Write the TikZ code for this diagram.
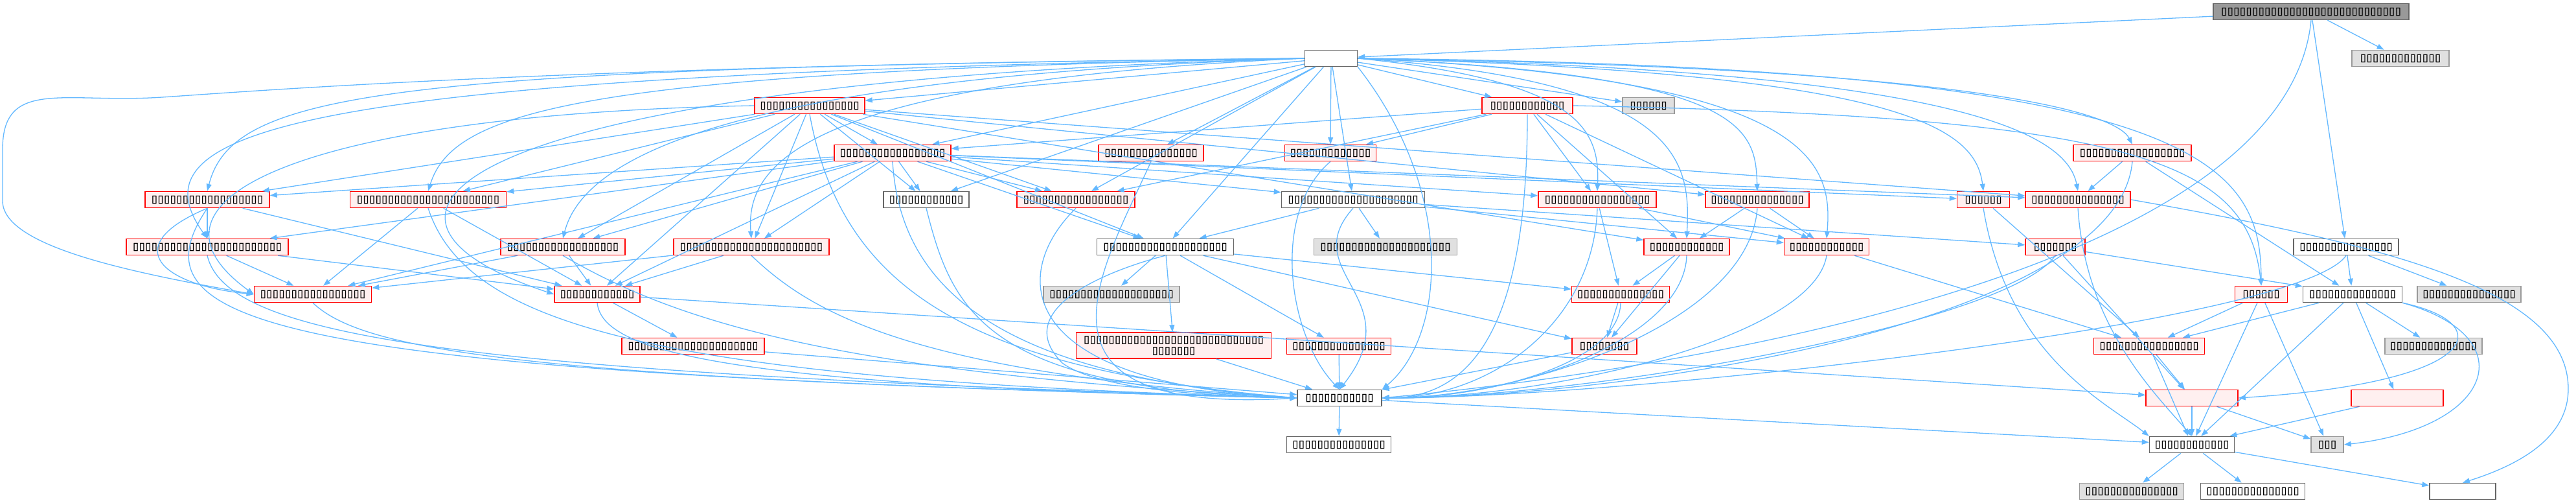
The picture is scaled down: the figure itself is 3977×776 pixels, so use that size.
\documentclass[tikz,border=0pt]{standalone}
\usepackage{fontspec}
\newfontfamily\tofufont[FakeBold=1.5]{DejaVu Sans}
\usetikzlibrary{arrows.meta}
\definecolor{edgeblue}{HTML}{63B8FF}
\definecolor{redfill}{HTML}{FFF0F0}
\definecolor{redline}{HTML}{FF0000}
\definecolor{greyline}{HTML}{666666}
\definecolor{lgfill}{HTML}{E0E0E0}
\definecolor{lgline}{HTML}{999999}
\definecolor{dgfill}{HTML}{999999}
\newcommand\tfc{\makebox[9.6pt]{▯}}
\newcommand\tfs[1]{\ifnum#1>0 \tfc\expandafter\tfs\expandafter{\the\numexpr#1-1\relax}\fi}
\tikzset{
  basenode/.style={rectangle, inner sep=0pt, minimum height=25pt, line width=1.5pt,
     font=\tofufont\fontsize{16}{17}\selectfont, align=center},
  rednode/.style={basenode, draw=redline, fill=redfill},
  whitenode/.style={basenode, draw=greyline, fill=white},
  graynode/.style={basenode, draw=lgline, fill=lgfill},
  darknode/.style={basenode, draw=greyline, fill=dgfill},
  edg/.style={draw=edgeblue, line width=1.3pt, -{Triangle[length=11pt,width=8pt]}},
}
\begin{document}
\begin{tikzpicture}[x=1pt,y=-1pt]
\useasboundingbox (0,0) rectangle (3977,776);
% row 0-1
\node[darknode, minimum width=302] (TOP) at (3568,18) {\tfs{29}};
\node[graynode, minimum width=150] (TR) at (3706,90) {\tfs{13}};
\node[whitenode, minimum width=81] (K) at (2055,90) {};
% row 2
\node[rednode, minimum width=170] (A) at (1250,163) {\tfs{16}};
\node[rednode, minimum width=140] (L) at (2358,163) {\tfs{12}};
\node[graynode, minimum width=80] (M) at (2545,163) {\tfs{6}};
% row 3
\node[rednode, minimum width=180] (B) at (1378,236) {\tfs{17}};
\node[rednode, minimum width=162] (N) at (1777,236) {\tfs{15}};
\node[rednode, minimum width=141] (O) at (2054,236) {\tfs{13}};
\node[rednode, minimum width=182] (AA) at (3292,236) {\tfs{17}};
% row 4
\node[rednode, minimum width=192] (C) at (320,308) {\tfs{18}};
\node[rednode, minimum width=241] (D) at (661,308) {\tfs{23}};
\node[whitenode, minimum width=132] (P) at (1430,308) {\tfs{12}};
\node[rednode, minimum width=182] (Q) at (1661,308) {\tfs{17}};
\node[whitenode, minimum width=221] (R) at (2089,308) {\tfs{21}};
\node[rednode, minimum width=182] (S) at (2466,308) {\tfs{17}};
\node[rednode, minimum width=160] (T) at (2713,308) {\tfs{15}};
\node[rednode, minimum width=81] (BB) at (3062,308) {\tfs{6}};
\node[rednode, minimum width=162] (CC) at (3208,308) {\tfs{15}};
% row 5
\node[rednode, minimum width=250] (E) at (320,381) {\tfs{24}};
\node[rednode, minimum width=192] (F) at (869,381) {\tfs{18}};
\node[rednode, minimum width=240] (G) at (1160,381) {\tfs{23}};
\node[whitenode, minimum width=211] (U) at (1799,381) {\tfs{20}};
\node[graynode, minimum width=221] (V) at (2139,381) {\tfs{21}};
\node[rednode, minimum width=132] (W) at (2604,381) {\tfs{12}};
\node[rednode, minimum width=131] (DD) at (2820,381) {\tfs{12}};
\node[rednode, minimum width=92] (EE) at (3173,381) {\tfs{7}};
\node[whitenode, minimum width=162] (FF) at (3622,381) {\tfs{15}};
% row 6
\node[rednode, minimum width=181] (H) at (483,454) {\tfs{17}};
\node[rednode, minimum width=132] (I) at (922,454) {\tfs{12}};
\node[graynode, minimum width=210] (SS) at (1716,454) {\tfs{20}};
\node[rednode, minimum width=151] (Y) at (2502,454) {\tfs{14}};
\node[rednode, minimum width=81] (GG) at (3491,454) {\tfs{6}};
\node[whitenode, minimum width=153] (HH) at (3632,454) {\tfs{14}};
\node[graynode, minimum width=160] (II) at (3812,454) {\tfs{15}};
% row 7
\node[rednode, minimum width=220] (J) at (1070,534) {\tfs{21}};
\node[rednode, minimum width=301, minimum height=40pt] (TT) at (1812,533) {\tfs{29}\\\tfs{7}};
\node[rednode, minimum width=161] (UU) at (2067,534) {\tfs{15}};
\node[rednode, minimum width=100] (VV) at (2477,534) {\tfs{8}};
\node[rednode, minimum width=171] (JJ) at (3318,534) {\tfs{16}};
\node[graynode, minimum width=150] (KK) at (3757,534) {\tfs{14}};
% row 8
\node[whitenode, minimum width=130] (WW) at (2068,614) {\tfs{11}};
\node[rednode, minimum width=142] (LL) at (3384,614) {};
\node[rednode, minimum width=142] (MM) at (3701,614) {};
% row 9
\node[whitenode, minimum width=161] (XX) at (2067,686) {\tfs{15}};
\node[whitenode, minimum width=131] (NN) at (3384,686) {\tfs{12}};
\node[graynode, minimum width=50] (OO) at (3593,686) {\tfs{3}};
% row 10
\node[graynode, minimum width=161] (PP) at (3291,758) {\tfs{15}};
\node[whitenode, minimum width=161] (QQ) at (3478,758) {\tfs{15}};
\node[whitenode, minimum width=102] (RR) at (3802,758) {};

% ---------- edges ----------
% TOP
\draw[edg] (TOP) -- (K);
\draw[edg] (TOP) -- (TR);
\draw[edg] (TOP) -- (FF);
\draw[edg] (TOP.south) .. controls (3530,420) and (2600,570) .. (WW.east);
% K
\draw[edg] (K) -- (A);
\draw[edg] (K) -- (B);
\draw[edg] (K.west) .. controls (600,105) and (360,140) .. (C.north);
\draw[edg] (K.west) .. controls (900,110) and (700,170) .. (D.north);
\draw[edg] (K.west) .. controls (450,115) and (200,200) .. (E.north);
\draw[edg] (K.west) .. controls (1100,120) and (900,250) .. (F.north);
\draw[edg] (K.west) .. controls (1250,125) and (1150,250) .. (G.north);
\draw[edg] (K.west) .. controls (700,125) and (480,330) .. (I.west);
\draw[edg] (K.west) .. controls (900,100) and (400,140) .. (250,150) .. controls (100,160) and (4,120) .. (4,230) -- (4,310) .. controls (4,380) and (200,420) .. (H.west);
\draw[edg] (K) -- (L);
\draw[edg] (K) -- (M);
\draw[edg] (K) -- (N);
\draw[edg] (K) -- (O);
\draw[edg] (K) -- (P);
\draw[edg] (K) -- (Q);
\draw[edg] (K) -- (R);
\draw[edg] (K) -- (U);
\draw[edg] (K.east) .. controls (2440,125) and (2470,200) .. (S.north);
\draw[edg] (K.east) .. controls (2700,115) and (2710,200) .. (T.north);
\draw[edg] (K.east) .. controls (2600,125) and (2610,250) .. (W.north);
\draw[edg] (K.east) .. controls (3100,105) and (3270,180) .. (AA.north);
\draw[edg] (K.east) .. controls (2950,112) and (3050,200) .. (BB.north);
\draw[edg] (K.east) .. controls (3000,108) and (3190,200) .. (CC.north);
\draw[edg] (K.east) .. controls (2800,120) and (2830,250) .. (DD.north);
\draw[edg] (K.east) .. controls (3400,102) and (3490,250) .. (GG.north);
\draw[edg] (K.south east) .. controls (2250,300) and (2230,520) .. (WW.north east);
% L
\draw[edg] (L) -- (B);
\draw[edg] (L) -- (O);
\draw[edg] (L) -- (Q);
\draw[edg] (L) -- (S);
\draw[edg] (L) -- (W);
\draw[edg] (L) -- (DD);
\draw[edg] (L.east) .. controls (3300,180) and (3470,250) .. (GG.north);
\draw[edg] (L.south) .. controls (2358,450) and (2300,614) .. (WW.east);
% A
\draw[edg] (A) -- (B);
\draw[edg] (A) -- (C);
\draw[edg] (A) -- (D);
\draw[edg] (A) -- (F);
\draw[edg] (A) -- (G);
\draw[edg] (A) -- (I);
\draw[edg] (A) -- (P);
\draw[edg] (A) -- (Q);
\draw[edg] (A) -- (U);
\draw[edg] (A) -- (T);
\draw[edg] (A) -- (W);
\draw[edg] (A) -- (CC);
\draw[edg] (A.west) .. controls (500,175) and (180,300) .. (H.west);
\draw[edg] (A.south) .. controls (1300,450) and (1500,570) .. (WW.west);
% B
\draw[edg] (B) -- (C);
\draw[edg] (B) -- (D);
\draw[edg] (B) -- (E);
\draw[edg] (B) -- (F);
\draw[edg] (B) -- (G);
\draw[edg] (B) -- (H);
\draw[edg] (B) -- (I);
\draw[edg] (B) -- (P);
\draw[edg] (B) -- (Q);
\draw[edg] (B) -- (R);
\draw[edg] (B) -- (S);
\draw[edg] (B) -- (U);
\draw[edg] (B) -- (BB);
\draw[edg] (B) -- (CC);
\draw[edg] (B.south) .. controls (1390,450) and (1550,580) .. (WW.west);
% row 3 others
\draw[edg] (N.south) .. controls (1700,420) and (1560,640) .. (WW.west);
\draw[edg] (O.south) .. controls (1960,330) and (1990,520) .. (WW.north);
\draw[edg] (AA) -- (CC);
\draw[edg] (AA) -- (HH);
\draw[edg] (AA.south) .. controls (3270,500) and (2500,614) .. (WW.east);
% row 4
\draw[edg] (C) -- (E);
\draw[edg] (C.south) .. controls (180,380) and (250,440) .. (H.west);
\draw[edg] (C) -- (I);
\draw[edg] (C.south) .. controls (200,500) and (400,575) .. (WW.west);
\draw[edg] (D) -- (H);
\draw[edg] (D) -- (I);
\draw[edg] (D.south) .. controls (720,500) and (1000,585) .. (WW.west);
\draw[edg] (P.south) .. controls (1470,480) and (1520,600) .. (WW.west);
\draw[edg] (Q.south) .. controls (1560,420) and (1560,590) .. (WW.west);
\draw[edg] (R) -- (U);
\draw[edg] (R) -- (V);
\draw[edg] (R) -- (DD);
\draw[edg] (R) -- (EE);
\draw[edg] (R.south) .. controls (2000,420) and (2180,460) .. (WW.north);
\draw[edg] (S) -- (Y);
\draw[edg] (S) -- (DD);
\draw[edg] (S.south) .. controls (2460,500) and (2300,614) .. (WW.east);
\draw[edg] (T) -- (W);
\draw[edg] (T) -- (DD);
\draw[edg] (T.south) .. controls (2700,500) and (2350,614) .. (WW.east);
\draw[edg] (BB) -- (JJ);
\draw[edg] (BB.south) .. controls (3100,550) and (3250,620) .. (NN.north west);
\draw[edg] (CC.south) .. controls (3220,500) and (3320,600) .. (NN.north);
\draw[edg] (CC.east) .. controls (3700,380) and (3965,450) .. (3965,600) .. controls (3965,680) and (3880,720) .. (RR.north);
% row 5
\draw[edg] (E) -- (H);
\draw[edg] (E) -- (I);
\draw[edg] (E.south) .. controls (350,520) and (700,575) .. (WW.west);
\draw[edg] (F) -- (H);
\draw[edg] (F) -- (I);
\draw[edg] (F.south) .. controls (1050,500) and (1300,575) .. (WW.west);
\draw[edg] (G) -- (H);
\draw[edg] (G) -- (I);
\draw[edg] (G.south) .. controls (1250,480) and (1400,575) .. (WW.west);
\draw[edg] (U) -- (SS);
\draw[edg] (U) -- (TT);
\draw[edg] (U) -- (UU);
\draw[edg] (U) -- (VV);
\draw[edg] (U) -- (Y);
\draw[edg] (U.south) .. controls (1700,420) and (1560,480) .. (1640,560) .. controls (1700,605) and (1900,612) .. (WW.west);
\draw[edg] (W) -- (Y);
\draw[edg] (W) -- (VV);
\draw[edg] (W.south) .. controls (2600,520) and (2350,614) .. (WW.east);
\draw[edg] (DD) -- (JJ);
\draw[edg] (DD.south) .. controls (2800,520) and (2400,614) .. (WW.east);
\draw[edg] (EE) -- (HH);
\draw[edg] (EE) -- (LL);
\draw[edg] (EE.south) .. controls (3100,500) and (2450,614) .. (WW.east);
\draw[edg] (FF) -- (HH);
\draw[edg] (FF) -- (II);
\draw[edg] (FF.south) .. controls (3550,500) and (2500,614) .. (WW.east);
% row 6
\draw[edg] (H.south) .. controls (560,540) and (800,585) .. (WW.west);
\draw[edg] (I) -- (J);
\draw[edg] (I) -- (LL);
\draw[edg] (I.south) .. controls (930,540) and (1100,595) .. (WW.west);
\draw[edg] (Y) -- (VV);
\draw[edg] (Y.south) .. controls (2500,560) and (2300,614) .. (WW.east);
\draw[edg] (GG) -- (JJ);
\draw[edg] (GG) -- (NN);
\draw[edg] (GG) -- (OO);
\draw[edg] (HH) -- (JJ);
\draw[edg] (HH) -- (NN);
\draw[edg] (HH) -- (MM);
\draw[edg] (HH) -- (KK);
\draw[edg] (HH.south east) .. controls (3860,500) and (3830,590) .. (LL.east);
\draw[edg] (HH.south east) .. controls (3900,520) and (3850,660) .. (OO.east);
% row 7
\draw[edg] (J) -- (WW);
\draw[edg] (TT) -- (WW);
\draw[edg] (UU) -- (WW);
\draw[edg] (VV) -- (WW);
\draw[edg] (JJ) -- (NN);
\draw[edg] (JJ) -- (LL);
% row 8
\draw[edg] (WW) -- (XX);
\draw[edg] (WW) -- (NN);
\draw[edg] (LL) -- (NN);
\draw[edg] (LL) -- (OO);
\draw[edg] (MM) -- (NN);
% row 9
\draw[edg] (NN) -- (PP);
\draw[edg] (NN) -- (QQ);
\draw[edg] (NN) -- (RR);
\end{tikzpicture}
\end{document}
